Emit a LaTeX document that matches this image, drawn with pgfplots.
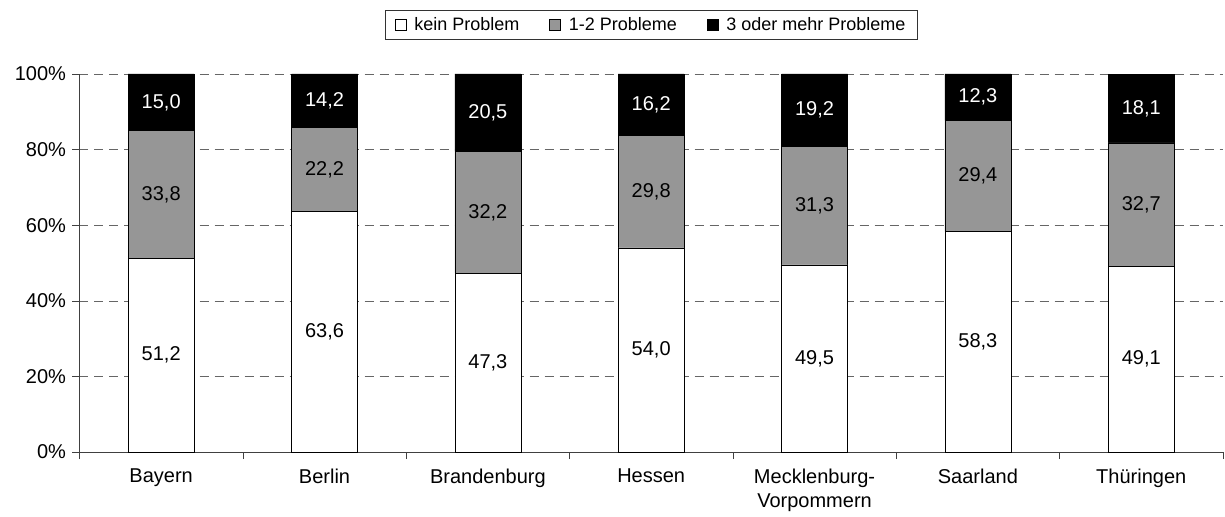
\documentclass[border=0pt]{standalone}
\usepackage{fontspec}
\setmainfont{Liberation Sans}
\usepackage{pgfplots}
\usepackage{pgfplotstable}
\pgfplotsset{compat=1.18}

% shares in percent: kein Problem, 1-2 Probleme, 3 oder mehr Probleme
\pgfplotstableread{
x kein eins drei
0 51.2 33.8 15.0
1 63.6 22.2 14.2
2 47.3 32.2 20.5
3 54.0 29.8 16.2
4 49.5 31.3 19.2
5 58.3 29.4 12.3
6 49.1 32.7 18.1
}\anteile

% label positions (middle of each segment) and printed values
\pgfplotstableread{
x ya la yb lb yc lc
0 25.60 51,2 68.10 33,8 92.50 15,0
1 31.80 63,6 74.70 22,2 92.90 14,2
2 23.65 47,3 63.40 32,2 89.75 20,5
3 27.00 54,0 68.90 29,8 91.90 16,2
4 24.75 49,5 65.15 31,3 90.40 19,2
5 29.15 58,3 73.00 29,4 93.85 12,3
6 24.55 49,1 65.45 32,7 90.85 18,1
}\labels

\definecolor{midgray}{HTML}{969696}

\pgfplotsset{
    common/.style={
        scale only axis,
        width=1143.5bp, height=378bp,
        xmin=-0.5, xmax=6.5, ymin=0, ymax=100,
    },
}

\begin{document}
\begin{tikzpicture}[font=\fontsize{20bp}{24bp}\selectfont]
\path[use as bounding box] (-79.5bp,-65bp) rectangle (1145.5bp,452bp);
\begin{axis}[
    common,
    ybar stacked, bar width=66bp,
    axis lines=left,
    axis line style={-, draw=black!75},
    tick align=outside,
    tick label style={font=\fontsize{20bp}{24bp}\selectfont},
    xtick={0,...,6},
    xticklabels={Bayern,Berlin,Brandenburg,Hessen,{Mecklenburg-\\Vorpommern},Saarland,Th\"uringen},
    xticklabel style={align=center, yshift=-6bp},
    yticklabel style={xshift=-3bp},
    major x tick style={draw=none},
    minor xtick={-0.5,0.5,...,6.5},
    minor tick length=7bp,
    major tick length=7bp,
    tick style={draw=black!75},
    ytick={0,20,...,100},
    yticklabels={0\%,20\%,40\%,60\%,80\%,100\%},
    ymajorgrids,
    grid style={dash pattern=on 9bp off 6bp, draw=black!60},
    legend style={at={(0.5,1.13)}, anchor=center, legend columns=-1,
        draw=black!80, inner ysep=5bp, inner xsep=10bp,
        font=\fontsize{18bp}{21bp}\selectfont,
        /tikz/every odd column/.append style={column sep=6bp},
        /tikz/every even column/.append style={column sep=28bp}},
    legend image code/.code={\draw[#1, draw=black] (0bp,-5.5bp) rectangle (11bp,5.5bp);},
]
\addplot[fill=white, draw=black] table[x=x, y=kein] {\anteile};
\addplot[fill=midgray, draw=black] table[x=x, y=eins] {\anteile};
\addplot[fill=black, draw=black] table[x=x, y=drei] {\anteile};
\legend{kein Problem, 1-2 Probleme, 3 oder mehr Probleme}
\end{axis}

% value labels, same geometry, no stacking
\begin{axis}[
    common,
    hide axis,
    nodes near coords,
    nodes near coords align=center,
    point meta=explicit symbolic,
    every node near coord/.append style={font=\fontsize{20bp}{24bp}\selectfont},
]
\addplot[draw=none, mark=none] table[x=x, y=ya, meta=la] {\labels};
\addplot[draw=none, mark=none] table[x=x, y=yb, meta=lb] {\labels};
\addplot[draw=none, mark=none, every node near coord/.append style={text=white}]
    table[x=x, y=yc, meta=lc] {\labels};
\end{axis}
\end{tikzpicture}
\end{document}
